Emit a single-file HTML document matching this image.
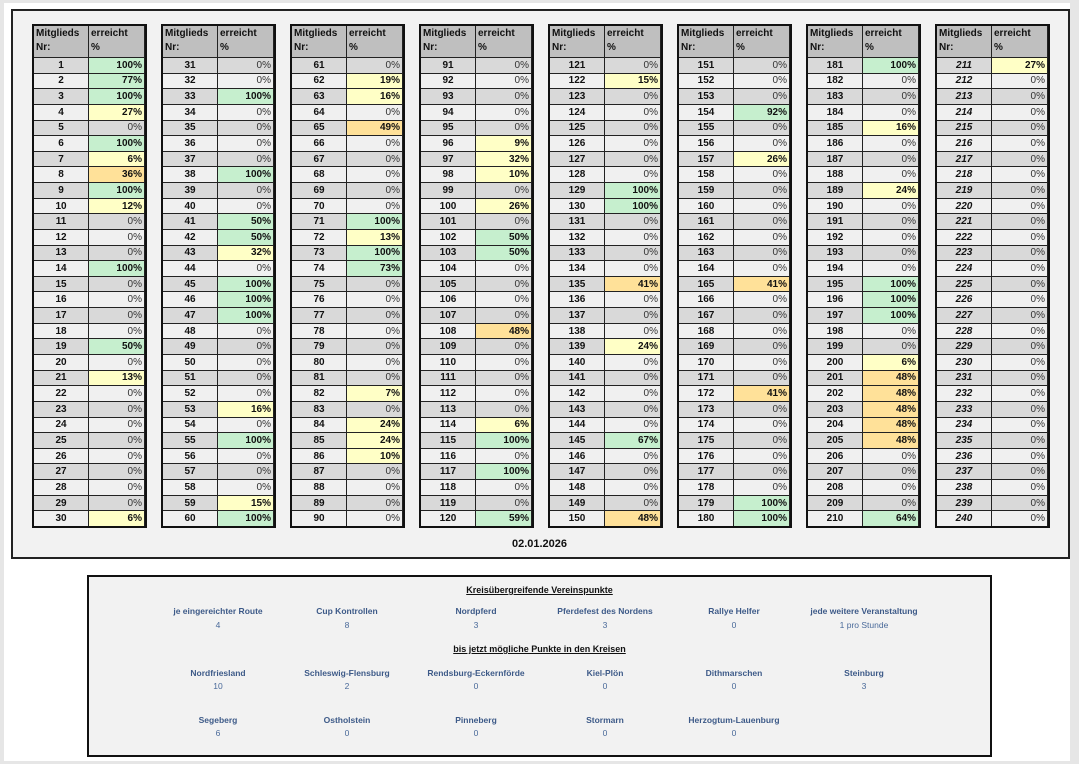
<!DOCTYPE html>
<html><head><meta charset="utf-8"><style>
body{margin:0;width:1079px;height:764px;background:#e6e6e6;position:relative;overflow:hidden;font-family:"Liberation Sans",sans-serif}
.page{position:absolute;left:4px;top:3px;width:1066px;height:758px;background:#fff}
.frame{position:absolute;left:11px;top:9px;width:1055px;height:546px;border:2px solid #222;background:#f2f2f2}
.t{position:absolute;top:24px;width:111px;height:500px;display:grid;grid-template-columns:54px 55px;grid-template-rows:31px repeat(30,1fr);gap:1px;background:#222;border:2px solid #111;font-size:10px}
.t>*{display:flex;align-items:center;overflow:hidden;white-space:nowrap;font-style:normal;background:#f0f0f0;color:#111}
.t>b{justify-content:center;font-weight:bold}
.t>i{justify-content:flex-end;padding-right:2px;color:#333}
.t>b:nth-child(4n+3),.t>i:nth-child(4n+4){background:#d9d9d9}
.t>.h{background:#bfbfbf!important;font-weight:bold;font-style:normal!important;align-items:flex-start;justify-content:flex-start;padding:1px 0 0 2px;line-height:14px;white-space:nowrap;display:block;font-size:10px;color:#111}
.t>i.g{background:#c6efce!important;font-weight:bold;color:#111}
.t>i.y{background:#ffffc6!important;font-weight:bold;color:#111}
.t>i.o{background:#ffe199!important;font-weight:bold;color:#111}
.it>b{font-style:italic}
.date{position:absolute;left:0;width:1079px;top:538px;text-align:center;font-weight:bold;font-size:11px;color:#111}
.box{position:absolute;left:87px;top:575px;width:901px;height:178px;border:2px solid #111;background:#f2f2f2;font-size:8.5px;color:#4a6a9a}
.c{position:absolute;width:160px;margin-left:-80px;text-align:center}
.c .l{font-weight:bold;color:#3d5a88}
.c .v{margin-top:4px}
.ti{position:absolute;left:0;width:901px;text-align:center;font-weight:bold;text-decoration:underline;color:#111;font-size:9px}
</style></head><body>
<div class="page"></div>
<div class="frame"></div>

<div class="t" style="left:32px"><b class="h">Mitglieds<br>Nr:</b><i class="h">erreicht<br>%</i>
<b>1</b><i class="g">100%</i><b>2</b><i class="g">77%</i><b>3</b><i class="g">100%</i><b>4</b><i class="y">27%</i><b>5</b><i>0%</i><b>6</b><i class="g">100%</i><b>7</b><i class="y">6%</i><b>8</b><i class="o">36%</i><b>9</b><i class="g">100%</i><b>10</b><i class="y">12%</i><b>11</b><i>0%</i><b>12</b><i>0%</i><b>13</b><i>0%</i><b>14</b><i class="g">100%</i><b>15</b><i>0%</i><b>16</b><i>0%</i><b>17</b><i>0%</i><b>18</b><i>0%</i><b>19</b><i class="g">50%</i><b>20</b><i>0%</i><b>21</b><i class="y">13%</i><b>22</b><i>0%</i><b>23</b><i>0%</i><b>24</b><i>0%</i><b>25</b><i>0%</i><b>26</b><i>0%</i><b>27</b><i>0%</i><b>28</b><i>0%</i><b>29</b><i>0%</i><b>30</b><i class="y">6%</i></div>

<div class="t" style="left:161px"><b class="h">Mitglieds<br>Nr:</b><i class="h">erreicht<br>%</i>
<b>31</b><i>0%</i><b>32</b><i>0%</i><b>33</b><i class="g">100%</i><b>34</b><i>0%</i><b>35</b><i>0%</i><b>36</b><i>0%</i><b>37</b><i>0%</i><b>38</b><i class="g">100%</i><b>39</b><i>0%</i><b>40</b><i>0%</i><b>41</b><i class="g">50%</i><b>42</b><i class="g">50%</i><b>43</b><i class="y">32%</i><b>44</b><i>0%</i><b>45</b><i class="g">100%</i><b>46</b><i class="g">100%</i><b>47</b><i class="g">100%</i><b>48</b><i>0%</i><b>49</b><i>0%</i><b>50</b><i>0%</i><b>51</b><i>0%</i><b>52</b><i>0%</i><b>53</b><i class="y">16%</i><b>54</b><i>0%</i><b>55</b><i class="g">100%</i><b>56</b><i>0%</i><b>57</b><i>0%</i><b>58</b><i>0%</i><b>59</b><i class="y">15%</i><b>60</b><i class="g">100%</i></div>

<div class="t" style="left:290px"><b class="h">Mitglieds<br>Nr:</b><i class="h">erreicht<br>%</i>
<b>61</b><i>0%</i><b>62</b><i class="y">19%</i><b>63</b><i class="y">16%</i><b>64</b><i>0%</i><b>65</b><i class="o">49%</i><b>66</b><i>0%</i><b>67</b><i>0%</i><b>68</b><i>0%</i><b>69</b><i>0%</i><b>70</b><i>0%</i><b>71</b><i class="g">100%</i><b>72</b><i class="y">13%</i><b>73</b><i class="g">100%</i><b>74</b><i class="g">73%</i><b>75</b><i>0%</i><b>76</b><i>0%</i><b>77</b><i>0%</i><b>78</b><i>0%</i><b>79</b><i>0%</i><b>80</b><i>0%</i><b>81</b><i>0%</i><b>82</b><i class="y">7%</i><b>83</b><i>0%</i><b>84</b><i class="y">24%</i><b>85</b><i class="y">24%</i><b>86</b><i class="y">10%</i><b>87</b><i>0%</i><b>88</b><i>0%</i><b>89</b><i>0%</i><b>90</b><i>0%</i></div>

<div class="t" style="left:419px"><b class="h">Mitglieds<br>Nr:</b><i class="h">erreicht<br>%</i>
<b>91</b><i>0%</i><b>92</b><i>0%</i><b>93</b><i>0%</i><b>94</b><i>0%</i><b>95</b><i>0%</i><b>96</b><i class="y">9%</i><b>97</b><i class="y">32%</i><b>98</b><i class="y">10%</i><b>99</b><i>0%</i><b>100</b><i class="y">26%</i><b>101</b><i>0%</i><b>102</b><i class="g">50%</i><b>103</b><i class="g">50%</i><b>104</b><i>0%</i><b>105</b><i>0%</i><b>106</b><i>0%</i><b>107</b><i>0%</i><b>108</b><i class="o">48%</i><b>109</b><i>0%</i><b>110</b><i>0%</i><b>111</b><i>0%</i><b>112</b><i>0%</i><b>113</b><i>0%</i><b>114</b><i class="y">6%</i><b>115</b><i class="g">100%</i><b>116</b><i>0%</i><b>117</b><i class="g">100%</i><b>118</b><i>0%</i><b>119</b><i>0%</i><b>120</b><i class="g">59%</i></div>

<div class="t" style="left:548px"><b class="h">Mitglieds<br>Nr:</b><i class="h">erreicht<br>%</i>
<b>121</b><i>0%</i><b>122</b><i class="y">15%</i><b>123</b><i>0%</i><b>124</b><i>0%</i><b>125</b><i>0%</i><b>126</b><i>0%</i><b>127</b><i>0%</i><b>128</b><i>0%</i><b>129</b><i class="g">100%</i><b>130</b><i class="g">100%</i><b>131</b><i>0%</i><b>132</b><i>0%</i><b>133</b><i>0%</i><b>134</b><i>0%</i><b>135</b><i class="o">41%</i><b>136</b><i>0%</i><b>137</b><i>0%</i><b>138</b><i>0%</i><b>139</b><i class="y">24%</i><b>140</b><i>0%</i><b>141</b><i>0%</i><b>142</b><i>0%</i><b>143</b><i>0%</i><b>144</b><i>0%</i><b>145</b><i class="g">67%</i><b>146</b><i>0%</i><b>147</b><i>0%</i><b>148</b><i>0%</i><b>149</b><i>0%</i><b>150</b><i class="o">48%</i></div>

<div class="t" style="left:677px"><b class="h">Mitglieds<br>Nr:</b><i class="h">erreicht<br>%</i>
<b>151</b><i>0%</i><b>152</b><i>0%</i><b>153</b><i>0%</i><b>154</b><i class="g">92%</i><b>155</b><i>0%</i><b>156</b><i>0%</i><b>157</b><i class="y">26%</i><b>158</b><i>0%</i><b>159</b><i>0%</i><b>160</b><i>0%</i><b>161</b><i>0%</i><b>162</b><i>0%</i><b>163</b><i>0%</i><b>164</b><i>0%</i><b>165</b><i class="o">41%</i><b>166</b><i>0%</i><b>167</b><i>0%</i><b>168</b><i>0%</i><b>169</b><i>0%</i><b>170</b><i>0%</i><b>171</b><i>0%</i><b>172</b><i class="o">41%</i><b>173</b><i>0%</i><b>174</b><i>0%</i><b>175</b><i>0%</i><b>176</b><i>0%</i><b>177</b><i>0%</i><b>178</b><i>0%</i><b>179</b><i class="g">100%</i><b>180</b><i class="g">100%</i></div>

<div class="t" style="left:806px"><b class="h">Mitglieds<br>Nr:</b><i class="h">erreicht<br>%</i>
<b>181</b><i class="g">100%</i><b>182</b><i>0%</i><b>183</b><i>0%</i><b>184</b><i>0%</i><b>185</b><i class="y">16%</i><b>186</b><i>0%</i><b>187</b><i>0%</i><b>188</b><i>0%</i><b>189</b><i class="y">24%</i><b>190</b><i>0%</i><b>191</b><i>0%</i><b>192</b><i>0%</i><b>193</b><i>0%</i><b>194</b><i>0%</i><b>195</b><i class="g">100%</i><b>196</b><i class="g">100%</i><b>197</b><i class="g">100%</i><b>198</b><i>0%</i><b>199</b><i>0%</i><b>200</b><i class="y">6%</i><b>201</b><i class="o">48%</i><b>202</b><i class="o">48%</i><b>203</b><i class="o">48%</i><b>204</b><i class="o">48%</i><b>205</b><i class="o">48%</i><b>206</b><i>0%</i><b>207</b><i>0%</i><b>208</b><i>0%</i><b>209</b><i>0%</i><b>210</b><i class="g">64%</i></div>

<div class="t it" style="left:935px"><b class="h">Mitglieds<br>Nr:</b><i class="h">erreicht<br>%</i>
<b>211</b><i class="y">27%</i><b>212</b><i>0%</i><b>213</b><i>0%</i><b>214</b><i>0%</i><b>215</b><i>0%</i><b>216</b><i>0%</i><b>217</b><i>0%</i><b>218</b><i>0%</i><b>219</b><i>0%</i><b>220</b><i>0%</i><b>221</b><i>0%</i><b>222</b><i>0%</i><b>223</b><i>0%</i><b>224</b><i>0%</i><b>225</b><i>0%</i><b>226</b><i>0%</i><b>227</b><i>0%</i><b>228</b><i>0%</i><b>229</b><i>0%</i><b>230</b><i>0%</i><b>231</b><i>0%</i><b>232</b><i>0%</i><b>233</b><i>0%</i><b>234</b><i>0%</i><b>235</b><i>0%</i><b>236</b><i>0%</i><b>237</b><i>0%</i><b>238</b><i>0%</i><b>239</b><i>0%</i><b>240</b><i>0%</i></div>

<div class="date">02.01.2026</div>

<div class="box">
<div class="ti" style="top:8px">Kreisübergreifende Vereinspunkte</div>
<div class="c" style="left:129px;top:29px"><div class="l">je eingereichter Route</div><div class="v">4</div></div>
<div class="c" style="left:258px;top:29px"><div class="l">Cup Kontrollen</div><div class="v">8</div></div>
<div class="c" style="left:387px;top:29px"><div class="l">Nordpferd</div><div class="v">3</div></div>
<div class="c" style="left:516px;top:29px"><div class="l">Pferdefest des Nordens</div><div class="v">3</div></div>
<div class="c" style="left:645px;top:29px"><div class="l">Rallye Helfer</div><div class="v">0</div></div>
<div class="c" style="left:775px;top:29px"><div class="l">jede weitere Veranstaltung</div><div class="v">1 pro Stunde</div></div>
<div class="ti" style="top:67px">bis jetzt mögliche Punkte in den Kreisen</div>
<div class="c" style="left:129px;top:91px"><div class="l">Nordfriesland</div><div class="v" style="margin-top:3px">10</div></div>
<div class="c" style="left:258px;top:91px"><div class="l">Schleswig-Flensburg</div><div class="v" style="margin-top:3px">2</div></div>
<div class="c" style="left:387px;top:91px"><div class="l">Rendsburg-Eckernförde</div><div class="v" style="margin-top:3px">0</div></div>
<div class="c" style="left:516px;top:91px"><div class="l">Kiel-Plön</div><div class="v" style="margin-top:3px">0</div></div>
<div class="c" style="left:645px;top:91px"><div class="l">Dithmarschen</div><div class="v" style="margin-top:3px">0</div></div>
<div class="c" style="left:775px;top:91px"><div class="l">Steinburg</div><div class="v" style="margin-top:3px">3</div></div>
<div class="c" style="left:129px;top:138px"><div class="l">Segeberg</div><div class="v" style="margin-top:3px">6</div></div>
<div class="c" style="left:258px;top:138px"><div class="l">Ostholstein</div><div class="v" style="margin-top:3px">0</div></div>
<div class="c" style="left:387px;top:138px"><div class="l">Pinneberg</div><div class="v" style="margin-top:3px">0</div></div>
<div class="c" style="left:516px;top:138px"><div class="l">Stormarn</div><div class="v" style="margin-top:3px">0</div></div>
<div class="c" style="left:645px;top:138px"><div class="l">Herzogtum-Lauenburg</div><div class="v" style="margin-top:3px">0</div></div>
</div>
</body></html>
